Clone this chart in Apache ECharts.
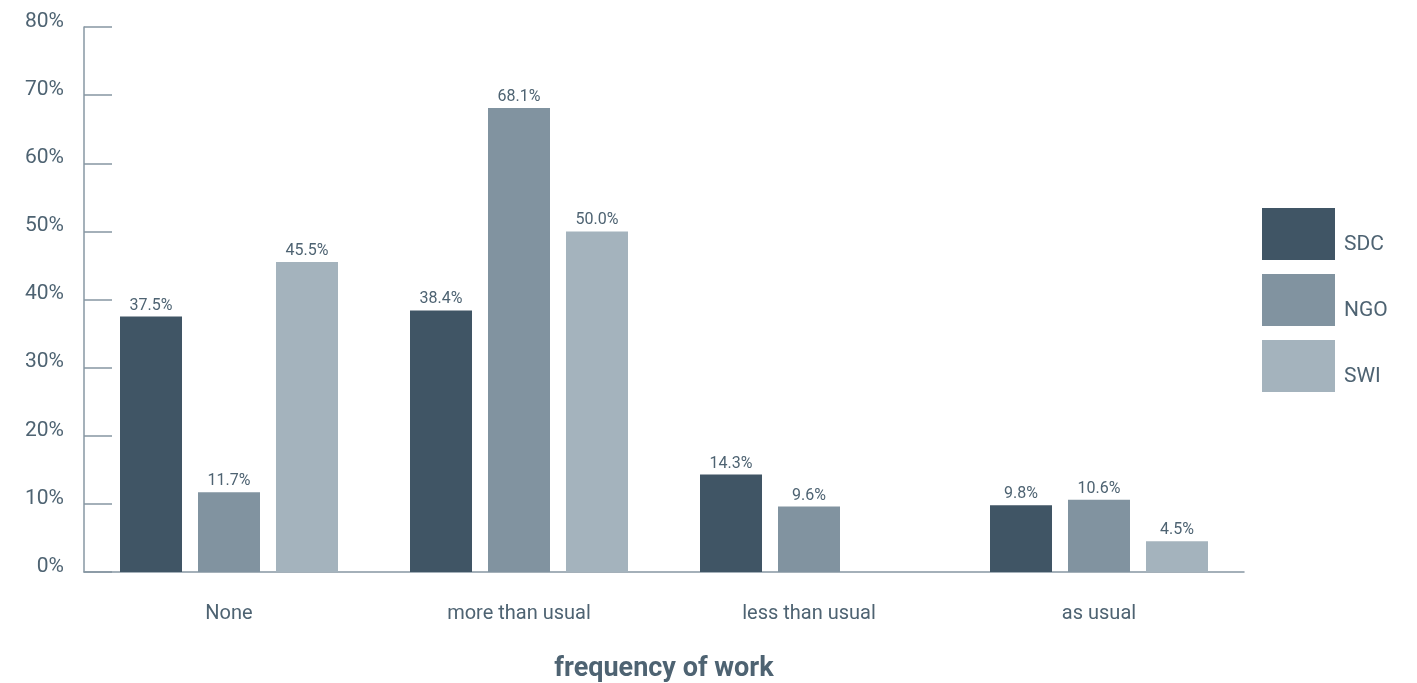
<!DOCTYPE html>
<html><head><meta charset="utf-8">
<script src="https://cdn.jsdelivr.net/npm/echarts@6/dist/echarts.min.js"></script>
<style>html,body{margin:0;padding:0;background:#fff}#c{width:1417px;height:683px}</style>
</head><body><div id="c"></div>
<script>
const categories = ['None', 'more than usual', 'less than usual', 'as usual'];
const seriesNames = ['SDC', 'NGO', 'SWI'];
const sdc = [37.5, 38.4, 14.3, 9.8];
const ngo = [11.7, 68.1, 9.6, 10.6];
const swi = [45.5, 50.0, null, 4.5];
const colors = ['#405565', '#8193a0', '#a4b3bd'];
const textColor = '#4e6372';
const axisColor = '#8797a3';
const font = 'Roboto, "Liberation Sans", sans-serif';

const chart = echarts.init(document.getElementById('c'), null, {renderer: 'canvas'});
const mk = (name, data, i) => ({
  name, type: 'bar', data,
  barWidth: 62, barGap: '25.8%',
  itemStyle: {color: colors[i]},
  label: {show: true, position: 'top', distance: 3, color: textColor, fontFamily: font, fontSize: 16,
    formatter: p => p.value == null ? '' : p.value.toFixed(1) + '%'}
});
chart.setOption({
  animation: false,
  grid: {left: 84, right: 173, top: 27, bottom: 111, containLabel: false, outerBoundsMode: 'none'},
  legend: {
    orient: 'vertical', left: 1257, top: 203,
    itemWidth: 73, itemHeight: 52, itemGap: 14, icon: 'rect',
    data: seriesNames,
    formatter: n => '{a|' + n + '}',
    textStyle: {color: textColor, fontFamily: font, fontSize: 21,
      rich: {a: {color: textColor, fontFamily: font, fontSize: 21, padding: [22, 0, 0, 4]}}}
  },
  xAxis: {
    type: 'category', data: categories,
    name: 'frequency of work', nameLocation: 'middle', nameGap: 84,
    nameTextStyle: {color: textColor, fontFamily: font, fontSize: 27, fontWeight: 'bold'},
    axisLine: {lineStyle: {color: axisColor, width: 1.5}},
    axisTick: {inside: true, length: 13, lineStyle: {color: axisColor, width: 1.5}},
    axisLabel: {color: textColor, fontFamily: font, fontSize: 20, margin: 32}
  },
  yAxis: {
    type: 'value', min: 0, max: 80, interval: 10,
    axisLine: {show: true, lineStyle: {color: axisColor, width: 1.5}},
    axisTick: {show: true, inside: true, length: 28, lineStyle: {color: axisColor, width: 1.5}},
    splitLine: {show: false},
    axisLabel: {color: textColor, fontFamily: font, fontSize: 21, margin: 20,
      formatter: v => '{a|' + v + '%}',
      rich: {a: {color: textColor, fontFamily: font, fontSize: 21, padding: [0, 0, 11, 0]}}}
  },
  series: [mk('SDC', sdc, 0), mk('NGO', ngo, 1), mk('SWI', swi, 2)]
});
</script></body></html>
